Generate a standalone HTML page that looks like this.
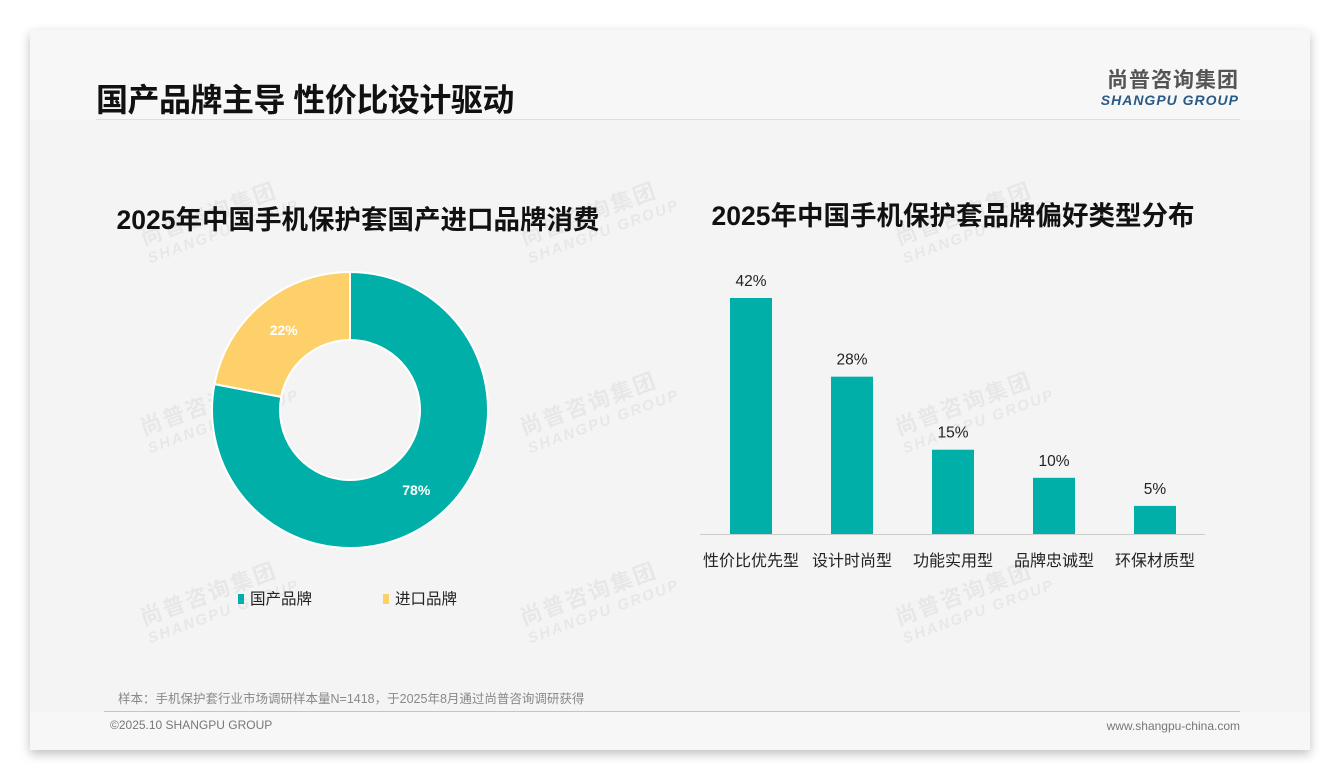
<!DOCTYPE html>
<html><head><meta charset="utf-8"><style>
body{margin:0;width:1340px;height:780px;background:#fff;font-family:"Liberation Sans","Noto Sans CJK SC",sans-serif;position:relative;overflow:hidden}
.slide{position:absolute;left:30px;top:30px;width:1280px;height:720px;background:#f4f4f4;box-shadow:0 4px 10px rgba(0,0,0,.25)}
.abs{position:absolute}
.wm{position:absolute;color:rgba(0,0,0,.05);font-weight:bold;font-size:22px;transform:rotate(-20deg);line-height:22px;letter-spacing:2px}
.wm span{display:block;font-size:15px;font-style:italic}
</style></head><body>
<div class="slide">
<div class="abs" style="left:0;top:0;width:1280px;height:90px;background:#f7f7f7"></div>
<div class="abs" style="left:66px;top:45px;font-size:32px;font-weight:bold;color:#111;letter-spacing:-0.5px">国产品牌主导 性价比设计驱动</div>
<div class="abs" style="left:1057px;top:34px;text-align:right;width:152px">
<div style="font-size:21px;font-weight:bold;color:#555;letter-spacing:1px">尚普咨询集团</div>
<div style="font-size:14px;font-weight:bold;font-style:italic;color:#2a5a86;letter-spacing:1px;margin-top:-2px">SHANGPU GROUP</div></div>
<div class="abs" style="left:66px;top:89px;width:1144px;height:1px;background:#ddd"></div>
<div class="wm" style="left:110px;top:170px">尚普咨询集团<span>SHANGPU GROUP</span></div>
<div class="wm" style="left:490px;top:170px">尚普咨询集团<span>SHANGPU GROUP</span></div>
<div class="wm" style="left:865px;top:170px">尚普咨询集团<span>SHANGPU GROUP</span></div>
<div class="wm" style="left:110px;top:360px">尚普咨询集团<span>SHANGPU GROUP</span></div>
<div class="wm" style="left:490px;top:360px">尚普咨询集团<span>SHANGPU GROUP</span></div>
<div class="wm" style="left:865px;top:360px">尚普咨询集团<span>SHANGPU GROUP</span></div>
<div class="wm" style="left:110px;top:550px">尚普咨询集团<span>SHANGPU GROUP</span></div>
<div class="wm" style="left:490px;top:550px">尚普咨询集团<span>SHANGPU GROUP</span></div>
<div class="wm" style="left:865px;top:550px">尚普咨询集团<span>SHANGPU GROUP</span></div>
<div class="abs" style="left:88px;top:658px;font-size:12.5px;color:#888">样本：手机保护套行业市场调研样本量N=1418，于2025年8月通过尚普咨询调研获得</div>
<div class="abs" style="left:0;top:682px;width:1280px;height:38px;background:#f7f7f7"></div>
<div class="abs" style="left:74px;top:681px;width:1136px;height:1px;background:#b8c8d8"></div>
<div class="abs" style="left:80px;top:688px;font-size:12px;color:#777">©2025.10 SHANGPU GROUP</div>
<div class="abs" style="left:1000px;top:689px;width:210px;text-align:right;font-size:12px;color:#777">www.shangpu-china.com</div>
</div>
<svg class="abs" style="left:0;top:0" width="1340" height="780" id="chart">
<text x="358" y="229" text-anchor="middle" font-size="26.5" font-weight="bold" fill="#111">2025年中国手机保护套国产进口品牌消费</text>
<text x="953" y="225" text-anchor="middle" font-size="26.5" font-weight="bold" fill="#111">2025年中国手机保护套品牌偏好类型分布</text>
<g id="donut"></g><g id="bars"></g>
<rect x="238" y="594" width="6" height="10" fill="#00b0a8"/>
<text x="250" y="604" font-size="15.5" fill="#222">国产品牌</text>
<rect x="383" y="594" width="6" height="10" fill="#fdd06a"/>
<text x="395" y="604" font-size="15.5" fill="#222">进口品牌</text>
<line x1="700" y1="534.5" x2="1205" y2="534.5" stroke="#ccc"/>
</svg>
<script>
const pieLabels=["国产品牌","进口品牌"];
const pieValues=[78,22];
const pieColors=["#00b0a8","#fdd06a"];
const barCats=["性价比优先型","设计时尚型","功能实用型","品牌忠诚型","环保材质型"];
const barValues=[42,28,15,10,5];
const ns="http://www.w3.org/2000/svg";
const cx=350,cy=410,R=138,r=70;
const dg=document.getElementById('donut');
let tot=pieValues.reduce((a,b)=>a+b,0),acc=0;
pieValues.forEach((v,i)=>{
 const a0=acc/tot*2*Math.PI,a1=(acc+v)/tot*2*Math.PI;acc+=v;
 const P=(rad,a)=>[cx+rad*Math.sin(a),cy-rad*Math.cos(a)];
 const lg=(a1-a0)>Math.PI?1:0;
 const [x0,y0]=P(R,a0),[x1,y1]=P(R,a1),[x2,y2]=P(r,a1),[x3,y3]=P(r,a0);
 const p=document.createElementNS(ns,'path');
 p.setAttribute('d',`M${x0},${y0}A${R},${R} 0 ${lg} 1 ${x1},${y1}L${x2},${y2}A${r},${r} 0 ${lg} 0 ${x3},${y3}Z`);
 p.setAttribute('fill',pieColors[i]);p.setAttribute('stroke','#fff');p.setAttribute('stroke-width','2');
 
 
 dg.appendChild(p);
 const am=(a0+a1)/2,[lx,ly]=P((R+r)/2,am);
 const t=document.createElementNS(ns,'text');
 t.setAttribute('x',lx);t.setAttribute('y',ly+5);t.setAttribute('text-anchor','middle');
 t.setAttribute('font-size','14');t.setAttribute('font-weight','bold');t.setAttribute('fill','#fff');
 
 
 t.textContent=v+'%';dg.appendChild(t);
});
const bg=document.getElementById('bars');
const base=534,scale=236/42,x0=751,step=101,bw=42;
barCats.forEach((c,i)=>{
 const v=barValues[i],h=v*scale,xc=x0+i*step;
 const b=document.createElementNS(ns,'rect');
 b.setAttribute('x',xc-bw/2);b.setAttribute('y',base-h);b.setAttribute('width',bw);b.setAttribute('height',h);b.setAttribute('fill','#00b0a8');
 
 
 bg.appendChild(b);
 const t=document.createElementNS(ns,'text');
 t.setAttribute('x',xc);t.setAttribute('y',base-h-12);t.setAttribute('text-anchor','middle');t.setAttribute('font-size','15.5');t.setAttribute('fill','#222');
 
 
 t.textContent=v+'%';bg.appendChild(t);
 const l=document.createElementNS(ns,'text');
 l.setAttribute('x',xc);l.setAttribute('y',566);l.setAttribute('text-anchor','middle');l.setAttribute('font-size','16');l.setAttribute('fill','#222');
 
 
 l.textContent=c;bg.appendChild(l);
});
</script>
</body></html>
